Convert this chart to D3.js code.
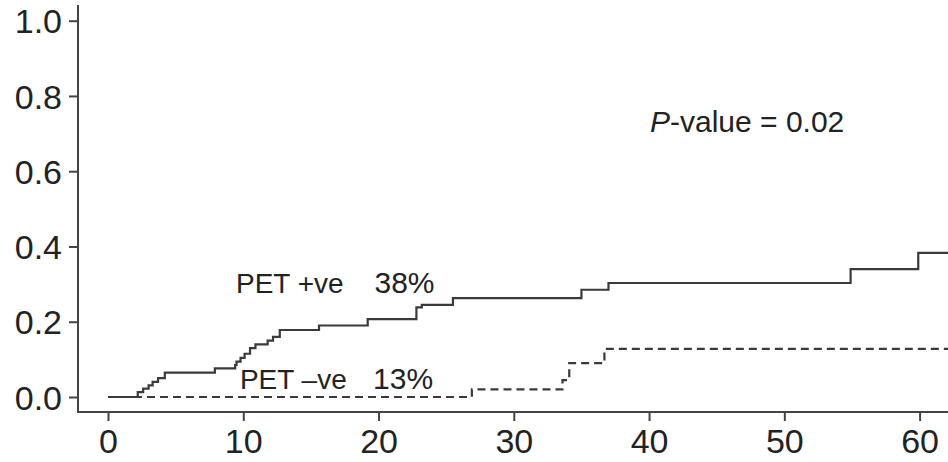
<!DOCTYPE html>
<html lang="en">
<head>
  <meta charset="UTF-8">
  <title>Cumulative incidence - PET +ve vs PET -ve</title>
  <script src="https://d3js.org/d3.v7.min.js"></script>
  <style>
    body { margin: 0; background: #fff; }
    svg { font-family: "Liberation Sans", Arial, sans-serif; display: block; }
    .tick text { fill: #222; }
    .curve { fill: none; stroke: #3a3a3a; stroke-width: 2.2px; }
    .dashed { stroke-dasharray: 8 5; }
    .note { fill: #222; }
  </style>
</head>
<body>
<svg width="948" height="462"></svg>
<script>
// PET positive group (solid)
const posTimes = [0, 2.2, 2.6, 3.0, 3.3, 3.7, 4.2, 7.9, 9.4, 9.5, 9.8, 10.1, 10.5, 10.9, 11.8, 12.2, 12.7,
  15.6, 19.2, 22.8, 23.2, 25.5, 35.0, 37.0, 54.9, 59.9, 62.3];
const posValues = [0, 0.013, 0.022, 0.031, 0.04, 0.05, 0.065, 0.076, 0.085, 0.094, 0.104, 0.115, 0.13, 0.14, 0.15, 0.16, 0.178,
  0.19, 0.207, 0.238, 0.245, 0.263, 0.285, 0.303, 0.34, 0.383, 0.383];

// PET negative group (dashed)
const negTimes = [0, 26.9, 33.6, 34.1, 36.7, 62.3];
const negValues = [0, 0.02, 0.045, 0.09, 0.128, 0.128];

const xTicks = [0, 10, 20, 30, 40, 50, 60];
const yTicks = [0, 0.2, 0.4, 0.6, 0.8, 1.0];

const svg = d3.select("svg");
const W = 948, H = 462;
const frameLeft = 78, frameBottom = 412;

const x = d3.scaleLinear().domain([0, 60]).range([108, 919.6]);
const y = d3.scaleLinear().domain([0, 1]).range([397, 20.7]);

// L-shaped frame
svg.append("path")
  .attr("d", `M${frameLeft},5 V${frameBottom} H${W}`)
  .attr("fill", "none")
  .attr("stroke", "#444")
  .attr("stroke-width", 2);

// y axis
const yAxis = svg.append("g")
  .attr("transform", `translate(${frameLeft},0)`)
  .call(d3.axisLeft(y).tickValues(yTicks).tickFormat(d3.format(".1f")).tickSize(9).tickPadding(7));
yAxis.select(".domain").remove();
yAxis.selectAll(".tick line").attr("stroke", "#444").attr("stroke-width", 2);
yAxis.selectAll(".tick text").attr("font-size", 34).attr("dy", "0.36em");

// x axis
const xAxis = svg.append("g")
  .attr("transform", `translate(0,${frameBottom})`)
  .call(d3.axisBottom(x).tickValues(xTicks).tickFormat(d3.format("d")).tickSize(9).tickPadding(8));
xAxis.select(".domain").remove();
xAxis.selectAll(".tick line").attr("stroke", "#444").attr("stroke-width", 2);
xAxis.selectAll(".tick text").attr("font-size", 34).attr("dy", "0.71em");

const line = d3.line()
  .x(d => x(d[0]))
  .y(d => y(d[1]))
  .curve(d3.curveStepAfter);

svg.append("path")
  .datum(d3.zip(negTimes, negValues))
  .attr("class", "curve dashed")
  .attr("d", line);

svg.append("path")
  .datum(d3.zip(posTimes, posValues))
  .attr("class", "curve")
  .attr("d", line);

// curve labels
svg.append("text").attr("class", "note")
  .attr("x", x(9.46)).attr("y", y(0.277))
  .attr("font-size", 28)
  .text("PET +ve");
svg.append("text").attr("class", "note")
  .attr("x", x(19.7)).attr("y", y(0.277))
  .attr("font-size", 30)
  .text("38%");
svg.append("text").attr("class", "note")
  .attr("x", x(9.75)).attr("y", y(0.021))
  .attr("font-size", 28)
  .text("PET \u2013ve");
svg.append("text").attr("class", "note")
  .attr("x", x(19.6)).attr("y", y(0.021))
  .attr("font-size", 30)
  .text("13%");

const pv = svg.append("text").attr("class", "note")
  .attr("x", x(40.07)).attr("y", y(0.705))
  .attr("font-size", 30);
pv.append("tspan").attr("font-style", "italic").text("P");
pv.append("tspan").text("-value = 0.02");
</script>
</body>
</html>
